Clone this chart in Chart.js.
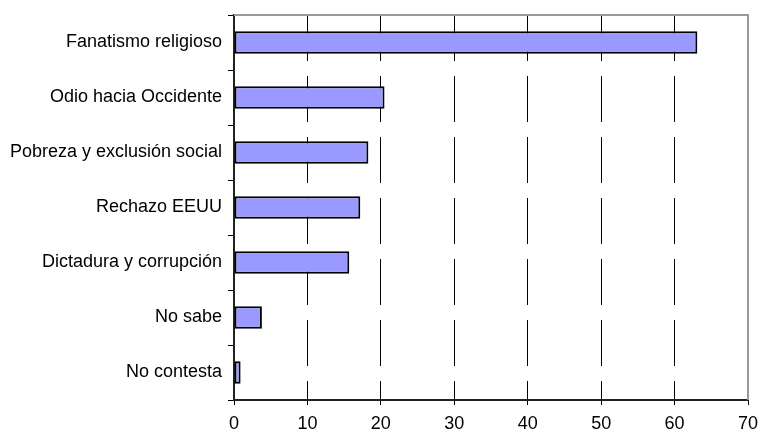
<!DOCTYPE html>
<html>
<head>
<meta charset="utf-8">
<script src="https://cdn.jsdelivr.net/npm/chart.js@4/dist/chart.umd.min.js"></script>
<style>
  html, body { margin: 0; padding: 0; background: white; }
  #wrap { width: 760px; height: 432px; }
</style>
</head>
<body>
<div id="wrap"><canvas id="chart" width="760" height="432"></canvas></div>
<script>
// categorías y valores (%)
const categorias = [
  'Fanatismo religioso',
  'Odio hacia Occidente',
  'Pobreza y exclusión social',
  'Rechazo EEUU',
  'Dictadura y corrupción',
  'No sabe',
  'No contesta',
];
const valores = [63.1, 20.5, 18.3, 17.2, 15.7, 3.8, 0.9];
const ejeX = { min: 0, max: 70, paso: 10 };

const fuente = { family: "'Liberation Sans', Arial, sans-serif", size: 18 };

// marco gris arriba y a la derecha del área de trazado
const marco = {
  id: 'marco',
  beforeDatasetsDraw: (chart) => {
    const ctx = chart.ctx;
    const a = chart.chartArea;
    ctx.save();
    ctx.strokeStyle = '#999999';
    ctx.lineWidth = 2;
    ctx.beginPath();
    ctx.moveTo(a.left, a.top);
    ctx.lineTo(a.right, a.top);
    ctx.lineTo(a.right, a.bottom);
    ctx.stroke();
    ctx.restore();
  },
};

new Chart(document.getElementById('chart').getContext('2d'), {
  type: 'bar',
  data: {
    labels: categorias,
    datasets: [{
      data: valores,
      backgroundColor: '#9999ff',
      borderColor: '#000000',
      borderWidth: 2,
      borderSkipped: false,
      barPercentage: 0.41,
      categoryPercentage: 1,
    }],
  },
  options: {
    indexAxis: 'y',
    responsive: false,
    animation: false,
    layout: {
      padding: { top: 15, right: 12, bottom: 0, left: 0 },
    },
    scales: {
      x: {
        type: 'linear',
        min: ejeX.min,
        max: ejeX.max,
        ticks: {
          stepSize: ejeX.paso,
          color: '#000',
          font: fuente,
          padding: 8,
          maxRotation: 0,
        },
        grid: {
          color: (c) => (c.index === 0 || c.index === 7) ? 'rgba(0,0,0,0)' : '#000',
          tickColor: '#000',
          lineWidth: 1,
          tickLength: 5,
        },
        border: {
          display: true,
          color: '#222',
          width: 2,
          dash: [46, 15],
        },
        afterFit: (scale) => {
          scale.height = 32;
          scale.paddingLeft = 0;
          scale.paddingRight = 0;
        },
      },
      y: {
        ticks: {
          color: '#000',
          font: fuente,
          padding: 6,
        },
        grid: {
          drawOnChartArea: false,
          drawTicks: true,
          tickLength: 6,
          color: '#000',
          offset: true,
        },
        border: {
          display: true,
          color: '#222',
          width: 2,
        },
        afterFit: (scale) => {
          scale.width = 234;
          scale.paddingTop = 0;
          scale.paddingBottom = 0;
        },
      },
    },
    plugins: {
      legend: { display: false },
      tooltip: { enabled: false },
    },
  },
  plugins: [marco],
});
</script>
</body>
</html>
